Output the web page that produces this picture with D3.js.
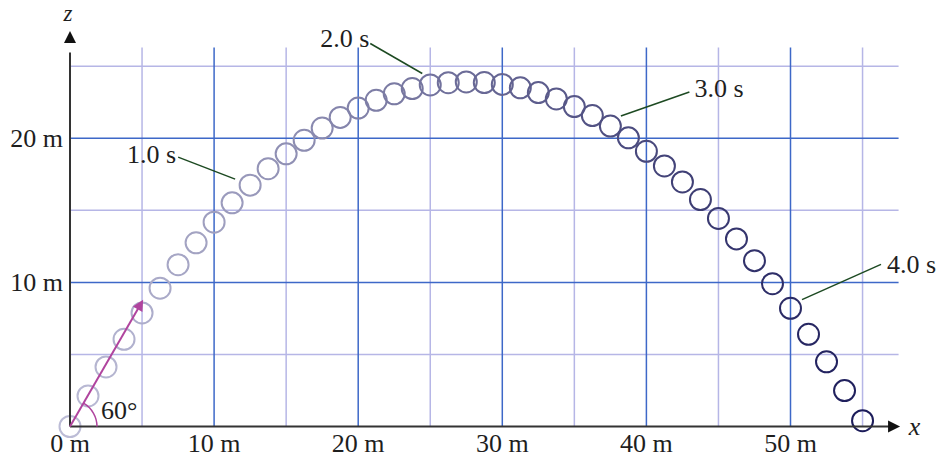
<!DOCTYPE html>
<html><head><meta charset="utf-8">
<script src="https://cdn.jsdelivr.net/npm/d3@7"></script>
<style>
html,body{margin:0;padding:0;background:#fff;}
svg{display:block;}
text{font-family:"Liberation Serif","Times New Roman",serif;fill:#1e1e1e;}
</style></head>
<body>
<svg id="chart" width="939" height="459"></svg>
<script>
// ---- data ----
const times = [0.0,0.1,0.2,0.3,0.4,0.5,0.6,0.7,0.8,0.9,1.0,1.1,1.2,1.3,1.4,1.5,1.6,1.7,1.8,1.9,2.0,2.1,2.2,2.3,2.4,2.5,2.6,2.7,2.8,2.9,3.0,3.1,3.2,3.3,3.4,3.5,3.6,3.7,3.8,3.9,4.0,4.1,4.2,4.3,4.4];
const xPos = [0,1.25,2.5,3.75,5.0,6.25,7.5,8.75,10.0,11.25,12.5,13.75,15.0,16.25,17.5,18.75,20.0,21.25,22.5,23.75,25.0,26.25,27.5,28.75,30.0,31.25,32.5,33.75,35.0,36.25,37.5,38.75,40.0,41.25,42.5,43.75,45.0,46.25,47.5,48.75,50.0,51.25,52.5,53.75,55.0];
const zPos = [0,2.12,4.13,6.05,7.88,9.60,11.23,12.75,14.18,15.52,16.75,17.89,18.92,19.86,20.71,21.45,22.10,22.64,23.09,23.45,23.70,23.86,23.91,23.87,23.74,23.50,23.17,22.73,22.20,21.58,20.85,20.03,19.10,18.08,16.97,15.75,14.44,13.02,11.51,9.91,8.20,6.40,4.49,2.49,0.40];
const xTicks = [0,10,20,30,40,50];
const xTickLabels = ["0 m","10 m","20 m","30 m","40 m","50 m"];
const zTicks = [10,20];
const zTickLabels = ["10 m","20 m"];
const xMajorGrid = [10,20,30,40,50];
const xMinorGrid = [5,15,25,35,45,55];
const zMajorGrid = [10,20];
const zMinorGrid = [5,15,25];
const labelTimes = [1.0,2.0,3.0,4.0];
const labelTexts = ["1.0 s","2.0 s","3.0 s","4.0 s"];
const launchAngle = 60;      // degrees
const vectorLength = 10;     // m (drawn velocity arrow)

// ---- scales ----
const xMax = 57.5, zMax = 26.3;
const x = d3.scaleLinear().domain([0, xMax]).range([70, 70 + xMax*14.41]);
const z = d3.scaleLinear().domain([0, zMax]).range([426.5, 426.5 - zMax*14.41]);
const FF = "Liberation Serif, Times New Roman, serif";

const svg = d3.select("#chart");
const defs = svg.append("defs");
defs.append("marker").attr("id","mag").attr("viewBox","0 0 10 10").attr("refX",8).attr("refY",5)
  .attr("markerWidth",13).attr("markerHeight",11).attr("markerUnits","userSpaceOnUse")
  .attr("orient","auto").append("path").attr("d","M0,0 L10,5 L0,10 Z").attr("fill","#b0449e");

// grid
const g = svg.append("g");
g.selectAll(".vmin").data(xMinorGrid).join("line")
  .attr("x1",d=>x(d)).attr("x2",d=>x(d)).attr("y1",z(0)).attr("y2",z(zMax))
  .attr("stroke","#b6b6e6").attr("stroke-width",1.5);
g.selectAll(".hmin").data(zMinorGrid).join("line")
  .attr("x1",x(0)).attr("x2",x(xMax)).attr("y1",d=>z(d)).attr("y2",d=>z(d))
  .attr("stroke","#b6b6e6").attr("stroke-width",1.5);
g.selectAll(".vmaj").data(xMajorGrid).join("line")
  .attr("x1",d=>x(d)).attr("x2",d=>x(d)).attr("y1",z(0)).attr("y2",z(zMax))
  .attr("stroke","#3d68c8").attr("stroke-width",1.5);
g.selectAll(".hmaj").data(zMajorGrid).join("line")
  .attr("x1",x(0)).attr("x2",x(xMax)).attr("y1",d=>z(d)).attr("y2",d=>z(d))
  .attr("stroke","#3d68c8").attr("stroke-width",1.5);

// circles
const col = d3.interpolateRgb("#bcbcd6", "#1c1c5a");
svg.append("g").selectAll("circle").data(times).join("circle")
  .attr("cx",(d,i)=>x(xPos[i])).attr("cy",(d,i)=>z(zPos[i])).attr("r",10.5)
  .attr("fill","none").attr("stroke-width",2)
  .attr("stroke",(d,i)=>col(i/(times.length-1)));

// axes
const ax = svg.append("g");
ax.append("line").attr("x1",x(0)).attr("x2",x(xMax)-8).attr("y1",z(0)).attr("y2",z(0)).attr("stroke","#333").attr("stroke-width",2);
ax.append("path").attr("d",`M${x(xMax)+1.5},${z(0)} l-12,-6 l0,12 Z`).attr("fill","#111");
ax.append("line").attr("x1",x(0)).attr("x2",x(0)).attr("y1",z(0)).attr("y2",z(zMax)+5).attr("stroke","#333").attr("stroke-width",2);
ax.append("path").attr("d",`M${x(0)},${z(zMax)-16.5} l-6,12 l12,0 Z`).attr("fill","#111");
ax.append("text").attr("x",x(0)-2).attr("y",21).attr("text-anchor","middle").attr("font-style","italic")
  .attr("font-family",FF).attr("font-size",23).text("z");
ax.append("text").attr("x",x(xMax)+16).attr("y",z(0)+8).attr("text-anchor","middle").attr("font-style","italic")
  .attr("font-family",FF).attr("font-size",26).text("x");

ax.selectAll(".xt").data(xTicks).join("text")
  .attr("x",d=>x(d)).attr("y",z(0)+25.5).attr("text-anchor","middle").attr("font-family",FF).attr("font-size",26)
  .text((d,i)=>xTickLabels[i]);
ax.selectAll(".zt").data(zTicks).join("text")
  .attr("x",x(0)-7).attr("y",d=>z(d)+9).attr("text-anchor","end").attr("font-family",FF).attr("font-size",26)
  .text((d,i)=>zTickLabels[i]);

// time labels with leader lines (offsets in px from the marked circle)
const offs = [
  {l1:[-72,-28], l2:[-15,-6], t:[-74,-22], a:"end"},
  {l1:[-60,-41.5], l2:[-8,-11.5], t:[-61,-37.5], a:"end"},
  {l1:[79,-34], l2:[10.5,-10], t:[84,-29], a:"start"},
  {l1:[90.5,-44], l2:[11.5,-8.7], t:[96.5,-35], a:"start"}
];
const lab = svg.append("g");
labelTimes.forEach((tt,k)=>{
  const i = times.findIndex(v=>Math.abs(v-tt)<1e-6);
  const cx = x(xPos[i]), cy = z(zPos[i]), o = offs[k];
  lab.append("line").attr("x1",cx+o.l1[0]).attr("y1",cy+o.l1[1]).attr("x2",cx+o.l2[0]).attr("y2",cy+o.l2[1])
    .attr("stroke","#1d4a22").attr("stroke-width",1.5);
  lab.append("text").attr("x",cx+o.t[0]).attr("y",cy+o.t[1]).attr("text-anchor",o.a)
    .attr("font-family",FF).attr("font-size",26).text(labelTexts[k]);
});

// launch vector and angle
const rad = launchAngle*Math.PI/180;
const vx = vectorLength*Math.cos(rad), vz = vectorLength*Math.sin(rad);
svg.append("line").attr("x1",x(0)).attr("y1",z(0)).attr("x2",x(vx)).attr("y2",z(vz))
  .attr("stroke","#b0449e").attr("stroke-width",2).attr("marker-end","url(#mag)");
const r = 27;
svg.append("path").attr("d",`M${x(0)+r},${z(0)} A${r},${r} 0 0 0 ${x(0)+r*Math.cos(rad)},${z(0)-r*Math.sin(rad)}`)
  .attr("fill","none").attr("stroke","#b0449e").attr("stroke-width",1.5);
svg.append("text").attr("x",x(0)+31).attr("y",z(0)-8).attr("font-family",FF).attr("font-size",26).text(launchAngle+"°");
</script>
</body></html>
